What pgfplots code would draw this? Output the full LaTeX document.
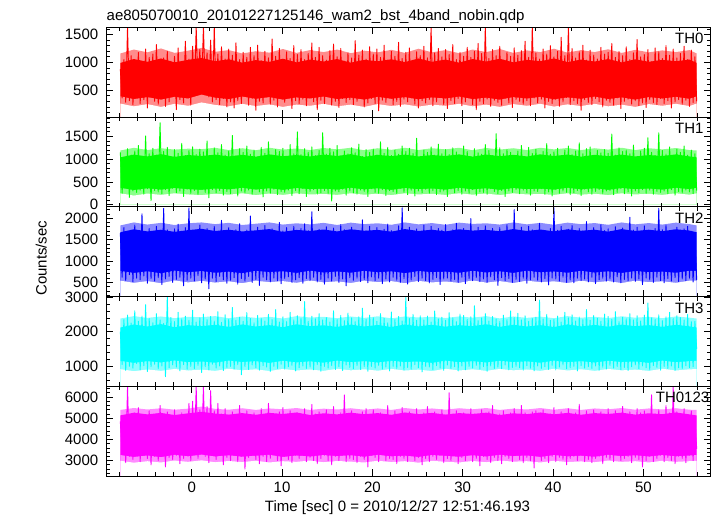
\documentclass[border=0pt]{standalone}
\usepackage{pgfplots}
\pgfplotsset{compat=1.18}
\usepackage{pgfplotstable}
\usepackage{fontspec}
\setmainfont{Liberation Sans}
\definecolor{cR}{RGB}{255,0,0}
\definecolor{cG}{RGB}{0,255,0}
\definecolor{cB}{RGB}{0,0,255}
\definecolor{cC}{RGB}{0,255,255}
\definecolor{cM}{RGB}{255,0,255}
% solid core of each light curve (lower and upper edge)
\pgfplotstableread{
t alo ahi blo bhi clo chi dlo dhi elo ehi
-7.9 390 990 370 1040 770 1670 1160 2120 3260 5130
-6.4 340 1060 320 1100 720 1740 1100 2210 3170 5260
-4.9 375 1010 360 1060 760 1690 1150 2150 3240 5180
-3.4 330 1070 330 1110 710 1730 1110 2220 3160 5250
-1.9 380 1000 365 1050 775 1680 1170 2130 3270 5150
-0.4 350 1045 340 1090 735 1720 1120 2190 3200 5230
1.1 420 1080 325 1070 765 1750 1140 2160 3280 5300
2.6 365 1020 355 1100 725 1700 1105 2200 3190 5220
4.1 340 1055 335 1060 750 1730 1165 2140 3250 5170
5.6 385 995 370 1095 715 1690 1125 2210 3180 5240
7.1 345 1040 330 1055 770 1715 1150 2150 3230 5160
8.6 375 1010 360 1105 740 1745 1100 2190 3270 5250
10.1 330 1065 325 1065 760 1680 1160 2130 3170 5200
11.6 370 1000 365 1090 720 1725 1115 2215 3240 5270
13.1 350 1050 340 1060 775 1700 1145 2160 3190 5150
14.6 385 1015 350 1100 730 1735 1105 2185 3260 5230
16.1 340 1060 330 1070 755 1690 1165 2140 3210 5180
17.6 365 995 370 1110 725 1740 1120 2205 3250 5260
19.1 330 1045 335 1050 770 1705 1150 2150 3180 5190
20.6 380 1020 360 1095 735 1725 1110 2195 3270 5240
22.1 345 1055 325 1065 760 1685 1160 2135 3200 5160
23.6 375 1005 365 1100 715 1745 1125 2210 3230 5270
25.1 335 1070 340 1060 765 1700 1140 2155 3170 5190
26.6 370 1010 355 1090 740 1730 1100 2200 3260 5250
28.1 350 1050 330 1070 750 1690 1165 2145 3220 5170
29.6 385 995 370 1105 725 1740 1120 2190 3180 5240
31.1 340 1060 335 1055 770 1710 1150 2160 3250 5200
32.6 365 1015 360 1100 730 1725 1110 2215 3190 5260
34.1 330 1065 325 1065 760 1695 1160 2140 3270 5150
35.6 375 1000 365 1095 720 1745 1125 2200 3210 5230
37.1 350 1045 340 1060 775 1700 1145 2150 3240 5190
38.6 380 1020 350 1105 735 1735 1105 2190 3170 5270
40.1 335 1070 330 1070 755 1690 1165 2135 3260 5180
41.6 370 1005 370 1100 725 1740 1120 2210 3200 5250
43.1 345 1050 335 1055 770 1705 1150 2155 3230 5160
44.6 385 1015 360 1095 730 1730 1110 2195 3180 5240
46.1 340 1060 325 1065 760 1685 1160 2145 3270 5200
47.6 370 1000 365 1100 720 1745 1125 2205 3210 5260
49.1 330 1055 340 1060 765 1700 1140 2160 3250 5170
50.6 375 1010 355 1090 740 1730 1100 2190 3190 5230
52.1 350 1045 330 1070 750 1695 1165 2140 3260 5190
53.6 380 1020 370 1105 725 1740 1120 2200 3200 5270
55.1 345 1050 340 1060 770 1710 1150 2155 3240 5180
55.9 390 990 370 1040 770 1670 1160 2120 3260 5130
}\core
% lighter fringe where the dense spikes overlap
\pgfplotstableread{
t alo ahi blo bhi clo chi dlo dhi elo ehi
-7.9 260 1160 250 1190 540 1830 920 2380 2990 5390
-6.4 210 1230 200 1250 490 1900 860 2450 2900 5480
-4.9 250 1180 245 1200 530 1850 910 2400 2970 5410
-3.4 200 1250 215 1240 480 1890 870 2440 2910 5470
-1.9 255 1170 250 1210 545 1840 925 2390 3000 5400
-0.4 220 1210 225 1230 500 1880 880 2430 2940 5450
1.1 280 1260 210 1220 535 1900 905 2420 3010 5550
2.6 235 1190 240 1250 495 1860 870 2450 2920 5440
4.1 210 1220 220 1200 525 1890 930 2390 2980 5400
5.6 255 1160 250 1240 480 1840 885 2440 2930 5470
7.1 215 1200 210 1195 540 1870 915 2400 2990 5390
8.6 245 1175 245 1250 505 1900 865 2430 2910 5460
10.1 200 1240 215 1210 530 1850 925 2380 2970 5420
11.6 240 1170 250 1235 490 1880 880 2450 2940 5480
13.1 220 1220 225 1200 545 1855 910 2410 3000 5390
14.6 255 1185 235 1245 500 1890 870 2430 2920 5450
16.1 210 1230 215 1215 525 1840 930 2390 2980 5410
17.6 240 1165 250 1250 485 1895 885 2440 2950 5470
19.1 200 1210 220 1195 540 1860 915 2400 2910 5400
20.6 250 1180 240 1240 505 1880 875 2445 2990 5460
22.1 215 1225 210 1205 530 1845 925 2385 2930 5390
23.6 245 1170 250 1250 480 1900 880 2440 2970 5480
25.1 205 1245 225 1200 535 1855 905 2410 2900 5410
26.6 240 1180 240 1240 500 1885 865 2430 2990 5460
28.1 220 1220 215 1215 520 1845 930 2395 2940 5400
29.6 255 1165 250 1250 490 1895 880 2440 2910 5470
31.1 210 1230 220 1195 545 1865 915 2405 2980 5420
32.6 240 1185 245 1245 495 1880 870 2450 2920 5480
34.1 200 1240 210 1210 530 1850 925 2385 3000 5390
35.6 250 1170 250 1240 485 1900 885 2440 2950 5450
37.1 220 1215 225 1200 540 1855 910 2400 2970 5410
38.6 255 1185 235 1250 505 1890 870 2435 2910 5480
40.1 205 1245 215 1215 525 1845 930 2390 2990 5400
41.6 245 1175 250 1245 485 1895 880 2450 2930 5470
43.1 215 1220 220 1200 540 1860 915 2405 2960 5390
44.6 255 1185 240 1240 500 1885 870 2430 2920 5460
46.1 210 1235 210 1210 530 1845 925 2395 3000 5420
47.6 240 1170 250 1250 485 1900 885 2445 2940 5480
49.1 200 1225 225 1200 540 1855 905 2405 2970 5400
50.6 250 1180 240 1240 505 1885 870 2430 2910 5460
52.1 220 1215 215 1215 525 1850 930 2390 2990 5410
53.6 255 1185 250 1245 490 1895 880 2440 2940 5470
55.1 215 1220 220 1200 540 1860 915 2405 2970 5400
55.9 260 1160 250 1190 540 1830 920 2380 2990 5390
}\outer
\pgfplotstableread{
t a b c d e
-7.9 880 1150 1650 2000 4850
-7.7 360 250 620 1050 3350
-7.5 1050 1020 1780 2350 5100
-7.3 280 380 540 880 2900
-7.1 1640 1230 1590 2480 6500
-6.9 310 160 680 1000 3200
-6.7 1120 1090 1720 2250 5000
-6.5 240 300 510 950 3050
-6.3 980 1180 1840 2600 5250
-6.1 390 270 600 1080 3300
-5.9 1180 1300 1700 2300 5500
-5.7 260 320 560 900 2950
-5.5 1010 1060 2100 2450 5150
-5.3 330 230 650 1020 3250
-5.1 1240 1510 1620 2780 4950
-4.9 180 350 480 850 3100
-4.7 1090 1120 1760 2380 5350
-4.5 420 90 590 990 2800
-4.3 1150 1240 1680 2260 5050
-4.1 300 310 530 1060 3200
-3.9 1320 1090 1810 2520 5200
-3.7 250 280 610 930 3000
-3.5 970 1800 1640 2340 5600
-3.3 360 240 450 1010 3300
-3.1 1080 1170 2230 2240 5050
-2.9 210 330 580 700 2700
-2.7 1200 1260 1730 3020 5300
-2.5 290 200 640 960 3150
-2.3 1020 1050 1600 2410 4900
-2.1 440 360 500 1040 3050
-1.9 1110 1210 1750 2290 5400
-1.7 150 260 570 980 3250
-1.5 1260 1130 1860 2560 5100
-1.3 330 300 620 870 2850
-1.1 990 1350 1690 2370 5250
-0.9 270 180 420 1050 3100
-0.7 1380 1080 1780 2450 4950
-0.5 380 340 550 920 3300
-0.3 1060 1190 2240 2330 5700
-0.1 230 250 600 1000 3000
0.1 1290 1270 1630 2620 5800
0.3 420 310 530 940 3350
0.5 1640 1100 1720 2280 6500
0.7 510 220 660 1030 3100
0.9 1230 1220 1840 2400 5400
1.1 480 380 490 820 3450
1.3 1650 1160 1670 2510 6500
1.5 520 270 580 990 3200
1.7 1170 1400 1760 2350 5550
1.9 380 150 350 900 2900
2.1 1400 1060 1690 2440 6300
2.3 290 330 600 1060 3300
2.5 1640 1250 1810 2310 5350
2.7 330 260 520 950 3050
2.9 1150 1140 1620 2580 5700
3.1 240 310 640 1010 3400
3.3 1280 1320 1950 2270 5200
3.5 350 210 560 880 2800
3.7 1060 1090 1710 2490 5450
3.9 200 290 480 970 3150
4.1 1240 1180 1780 2360 5150
4.3 290 240 550 1000 3000
4.5 1130 1520 1650 2700 5300
4.7 180 350 610 920 3250
4.9 1350 1070 1730 2330 5000
5.1 310 190 460 1050 2950
5.3 1050 1230 1870 2420 5600
5.5 260 300 590 760 3200
5.7 1180 1150 1640 2300 5100
5.9 410 260 530 990 2600
6.1 1090 1290 1720 2550 5350
6.3 230 320 640 910 3150
6.5 1270 1110 2050 2380 4950
6.7 350 230 500 1040 3300
6.9 1120 1200 1680 2260 5250
7.1 140 360 570 960 3050
7.3 1310 1050 1790 2470 5100
7.5 300 280 430 890 2850
7.7 1030 1260 1700 2390 5450
7.9 270 170 620 1020 3200
8.1 1200 1130 1830 2310 5050
8.3 380 300 560 980 2950
8.5 1080 1380 1660 2500 5700
8.7 250 250 510 850 3100
8.9 1420 1090 1750 2350 5200
9.1 320 340 600 1000 3300
9.3 1110 1210 1620 2640 4900
9.5 200 220 540 940 3000
9.7 1250 1170 1900 2280 5300
9.9 360 290 470 1060 2750
10.1 1010 1240 1700 2430 5500
10.3 280 270 590 920 3200
10.5 1190 1060 1780 2290 5100
10.7 430 320 630 990 3050
10.9 1070 1320 1640 2560 5350
11.1 170 200 500 1030 2900
11.3 1300 1120 1810 2340 5000
11.5 310 310 560 870 3250
11.7 1140 1600 1690 2460 5250
11.9 260 240 610 960 3100
12.1 1230 1100 1760 2390 5150
12.3 340 350 480 1010 3300
12.5 1050 1230 1870 2870 5450
12.7 220 180 590 940 2950
12.9 1160 1150 1710 2300 5050
13.1 380 290 540 980 3150
13.3 1350 1270 2150 2450 5650
13.5 290 330 620 900 3000
13.7 1090 1080 1650 2370 5200
13.9 150 230 510 1050 2850
14.1 1270 1190 1740 2520 5300
14.3 320 260 570 860 3100
14.5 1120 1580 1620 2340 4950
14.7 260 310 460 1000 3250
14.9 1040 1110 1800 2410 5400
15.1 400 250 600 950 3000
15.3 1210 1240 1690 2280 5100
15.5 230 80 530 1020 2800
15.7 1330 1160 1770 2600 5550
15.9 300 300 640 910 3200
16.1 1100 1300 1680 2350 5050
16.3 190 280 500 990 3000
16.5 1250 1070 1850 2470 5250
16.7 350 340 580 880 3300
16.9 1020 1180 1730 2320 6100
17.1 280 210 420 1040 2950
17.3 1170 1120 1640 2540 5150
17.5 330 300 610 970 3100
17.7 1080 1250 1790 2400 5350
17.9 240 260 550 930 3050
18.1 1390 1140 1720 2290 5200
18.3 300 230 600 1020 2900
18.5 1130 1330 1660 2430 5000
18.7 410 320 520 910 3200
18.9 1220 1060 1960 2680 5300
19.1 200 290 570 990 3050
19.3 1060 1210 1700 2360 5450
19.5 270 180 490 860 2700
19.7 1280 1150 1810 2480 5100
19.9 350 350 630 1000 3250
20.1 1150 1220 1630 2410 5400
20.3 260 270 540 950 3150
20.5 1240 1090 1780 2300 5150
20.7 130 250 600 1030 2950
20.9 1090 1380 1690 2520 5250
21.1 320 330 470 920 3300
21.3 1310 1130 1740 2390 5000
21.5 280 200 580 980 3000
21.7 1040 1260 1860 2260 5600
21.9 380 310 510 870 3100
22.1 1200 1080 1710 2570 5100
22.3 240 290 620 1000 3050
22.5 1110 1200 1640 2350 5350
22.7 300 240 550 940 2850
22.9 1360 1110 1820 2440 5050
23.1 210 360 500 1010 3200
23.3 1070 1290 2240 2310 5500
23.5 340 270 590 890 3100
23.7 1180 1170 1680 2990 5200
23.9 290 220 460 970 2950
24.1 1260 1240 1790 2380 5300
24.3 360 320 560 920 3250
24.5 1030 1130 1700 2500 5000
24.7 250 190 640 1050 3000
24.9 1190 1460 1750 2330 5450
25.1 180 300 520 960 3150
25.3 1120 1060 1620 2460 5150
25.5 310 260 600 840 2800
25.7 1290 1200 1840 2340 5250
25.9 270 340 540 1000 3100
26.1 1080 1150 1670 2450 5550
26.3 330 250 490 980 2950
26.5 1640 1270 1810 2280 5100
26.7 220 310 570 910 3200
26.9 1170 1090 1690 2600 5300
27.1 290 220 610 1020 3050
27.3 1250 1330 1760 2370 4950
27.5 400 280 450 950 3300
27.7 1100 1120 1720 2420 5400
27.9 240 300 580 880 2900
28.1 1230 1210 1850 2330 5150
28.3 170 180 600 1040 3100
28.5 1140 1100 1650 2550 6200
28.7 310 340 530 930 3000
28.9 1320 1250 1730 2400 5200
29.1 260 260 570 990 3250
29.3 1050 1160 1880 2290 5350
29.5 350 310 500 870 2850
29.7 1180 1080 1640 2510 5050
29.9 220 230 620 1010 3150
30.1 1110 1290 1760 2470 5250
30.3 290 300 470 900 3000
30.5 1270 1170 1700 2360 5100
30.7 380 250 590 1000 3300
30.9 1090 1060 1990 2430 5450
31.1 240 330 540 950 2950
31.3 1200 1230 1680 2750 5200
31.5 150 200 610 1030 3100
31.7 1340 1140 1790 2320 5000
31.9 300 280 520 920 2750
32.1 1160 1110 1640 2400 5400
32.3 260 270 580 990 3200
32.5 1640 1320 1820 2520 5150
32.7 340 230 500 860 3050
32.9 1070 1190 1710 2310 5300
33.1 210 350 630 1010 2900
33.3 1230 1080 1760 2440 5600
33.5 320 290 560 940 3150
33.7 1120 1560 1690 2370 5100
33.9 280 240 430 980 3000
34.1 1290 1250 1780 2290 5200
34.3 230 310 610 930 2850
34.5 1040 1120 1660 2480 5350
34.7 360 180 540 1040 3200
34.9 1180 1210 1850 2350 5050
35.1 270 300 590 900 3100
35.3 1110 1150 1720 2600 5250
35.5 190 270 500 970 2950
35.7 1260 1070 2200 2410 5450
35.9 330 330 570 1000 3300
36.1 1130 1180 1700 2530 5100
36.3 300 240 520 960 3050
36.5 1210 1300 1790 2340 5600
36.7 250 320 600 890 2900
36.9 1380 1040 1640 2460 5250
37.1 310 260 480 1020 3150
37.3 1090 1260 1810 2300 5000
37.5 220 210 560 950 3000
37.7 1640 1130 1730 2390 5300
37.9 360 300 620 870 2650
38.1 1170 1220 1670 2420 5350
38.3 270 290 550 1010 3250
38.5 1060 1090 1880 2910 5150
38.7 340 350 510 940 3000
38.9 1240 1170 1700 2370 5400
39.1 180 230 590 990 3100
39.3 1150 1340 1650 2500 5050
39.5 300 280 440 910 2900
39.7 1300 1110 1760 2330 5200
39.9 260 190 600 1030 3200
40.1 1100 1160 2240 2360 5500
40.3 330 330 580 900 2950
40.5 1200 1240 1720 2450 5100
40.7 210 250 530 980 3150
40.9 1450 1080 1810 2280 5300
41.1 290 300 620 1040 3050
41.3 1120 1200 1680 2560 5200
41.5 370 270 500 930 2800
41.7 1640 1290 1740 2400 5450
41.9 240 220 560 960 3100
42.1 1250 1100 1830 2490 5050
42.3 310 260 490 1000 3200
42.5 1080 1180 1650 2310 5250
42.7 260 310 600 870 3000
42.9 1190 1360 1760 2420 5650
43.1 140 200 540 1020 3250
43.3 1310 1120 1700 2350 5150
43.5 330 340 580 950 2950
43.7 1040 1230 1920 2640 5350
43.9 280 280 510 990 3050
44.1 1220 1270 1690 2330 5200
44.3 240 230 620 940 2900
44.5 1130 1060 1780 2470 5400
44.7 350 290 470 1010 3100
44.9 1060 1190 1640 2390 5000
45.1 290 330 560 890 3200
45.3 1270 1140 1850 2300 5300
45.5 200 250 600 980 2850
45.7 1150 1210 1710 2510 5100
45.9 320 300 530 920 3150
46.1 1180 1130 1750 2440 5450
46.3 280 310 580 1030 3050
46.5 1340 1550 1690 2360 5150
46.7 230 220 510 950 2950
46.9 1090 1090 1800 2580 5350
47.1 360 270 630 1000 3250
47.3 1200 1250 1660 2290 5200
47.5 170 350 490 900 3000
47.7 1120 1170 1770 2420 5550
47.9 300 240 570 970 3100
48.1 1280 1200 1640 2370 5100
48.3 340 280 540 880 3200
48.5 1050 1120 2020 2520 5300
48.7 250 190 600 990 2900
48.9 1170 1310 1720 2340 5050
49.1 310 300 520 1040 3150
49.3 1410 1060 1790 2460 5450
49.5 220 260 580 930 3050
49.7 1100 1180 1680 2310 5250
49.9 270 330 450 1010 2700
50.1 1140 1240 1820 2480 5350
50.3 190 250 600 960 3000
50.5 1230 1470 1700 2830 5150
50.7 330 320 560 900 3200
50.9 1010 1150 1650 2400 6100
51.1 280 230 500 1020 2950
51.3 1260 1080 1760 2350 5200
51.5 240 290 620 970 3100
51.7 1190 1580 2230 2490 5400
51.9 350 270 540 890 3250
52.1 1070 1190 1730 2320 5050
52.3 260 300 490 1000 2950
52.5 1300 1110 1840 2430 5600
52.7 310 240 590 940 3150
52.9 1130 1270 1680 2560 5250
53.1 180 330 530 1010 3000
53.3 1240 1050 1720 2380 6500
53.5 290 210 610 880 2850
53.7 1080 1220 1790 2460 5300
53.9 330 290 520 960 3200
54.1 1160 1150 1660 2410 5200
54.3 250 260 580 930 3100
54.5 1290 1290 1750 2340 5450
54.7 320 320 540 1020 2900
54.9 1050 1090 1810 2500 5100
55.1 210 280 600 960 3250
55.3 1220 1200 1690 2290 5350
55.5 280 240 510 990 3000
55.7 1100 1120 1640 2300 5000
55.9 300 310 560 1500 3550
}\lc
\tikzset{
  lab/.style={anchor=north west, inner sep=0pt, yshift=-6pt, font=\fontsize{15}{18}\selectfont},
}
\pgfplotsset{
  panel/.style={
    scale only axis, width=604.4pt, height=89.75pt,
    anchor=north west,
    xmin=-9.45, xmax=57.45,
    xtick={0,10,20,30,40,50},
    minor xtick={-8,-6,...,56},
    xticklabels={},
    tick align=inside,
    tick pos=both,
    ticklabel pos=left,
    major tick length=7pt, minor tick length=4pt,
    every tick/.style={black, line width=0.7pt},
    axis line style={black, line width=0.8pt},
    tick label style={font=\fontsize{15}{18}\selectfont},
    yticklabel style={xshift=-4.5pt},
    xticklabel style={yshift=-2.3pt},
    /pgf/number format/assume math mode=true,
    /pgf/number format/1000 sep={},
    scaled ticks=false,
    axis on top,
  },
  curve/.style={line width=0.9pt, mark=none, line join=round},
}
% #1 colour, #2 low column, #3 high column, #4 light-curve column
\newcommand\lightcurve[4]{%
  \addplot[fill=#1!45!white, draw=none] table[x=t,y=#3]{\outer} \closedcycle;
  \addplot[fill=white, draw=none] table[x=t,y=#2]{\outer} \closedcycle;
  \addplot[fill=#1, draw=none] table[x=t,y=#3]{\core} \closedcycle;
  \addplot[fill=#1!45!white, draw=none] table[x=t,y=#2]{\core} \closedcycle;
  \addplot[fill=white, draw=none] table[x=t,y=#2]{\outer} \closedcycle;
  \addplot[#1, curve] table[x=t,y=#4]{\lc};
}
\begin{document}
\begin{tikzpicture}
\path[use as bounding box] (0pt,0pt) rectangle (717pt,516pt);
\begin{axis}[panel, at={(106.3pt,488.7pt)}, ymin=18, ymax=1630,
  ytick={500,1000,1500}, minor ytick={100,200,...,1600}]
\lightcurve{cR}{alo}{ahi}{a}
\node[lab] at (rel axis cs:0.941,1) {TH0};
\end{axis}
\begin{axis}[panel, at={(106.3pt,398.95pt)}, ymin=-46, ymax=1925,
  ytick={0,500,1000,1500}, minor ytick={0,100,...,1900}]
\lightcurve{cG}{blo}{bhi}{b}
\node[lab] at (rel axis cs:0.941,1) {TH1};
\end{axis}
\begin{axis}[panel, at={(106.3pt,309.2pt)}, ymin=170, ymax=2265,
  ytick={500,1000,1500,2000}, minor ytick={200,300,...,2200}]
\lightcurve{cB}{clo}{chi}{c}
\node[lab] at (rel axis cs:0.941,1) {TH2};
\end{axis}
\begin{axis}[panel, at={(106.3pt,219.45pt)}, ymin=425, ymax=3015,
  ytick={1000,2000,3000}, minor ytick={600,800,...,3000}]
\lightcurve{cC}{dlo}{dhi}{d}
\node[lab] at (rel axis cs:0.941,1) {TH3};
\end{axis}
\begin{axis}[panel, at={(106.3pt,129.7pt)}, ymin=2270, ymax=6505,
  ytick={3000,4000,5000,6000}, minor ytick={2400,2600,...,6400},
  xticklabels={0,10,20,30,40,50}]
\lightcurve{cM}{elo}{ehi}{e}
\node[lab] at (rel axis cs:0.909,1) {TH0123};
\end{axis}
\node[anchor=base west, inner sep=0pt, font=\fontsize{15}{18}\selectfont] at (106.5pt,495.3pt) {ae805070010\_20101227125146\_wam2\_bst\_4band\_nobin.qdp};
\node[anchor=base, inner sep=0pt, font=\fontsize{15}{18}\selectfont] at (397.5pt,4.3pt) {Time [sec] 0 = 2010/12/27 12:51:46.193};
\node[rotate=90, inner sep=0pt, font=\fontsize{15}{18}\selectfont] at (41.3pt,257.7pt) {Counts/sec};
\end{tikzpicture}
\end{document}
